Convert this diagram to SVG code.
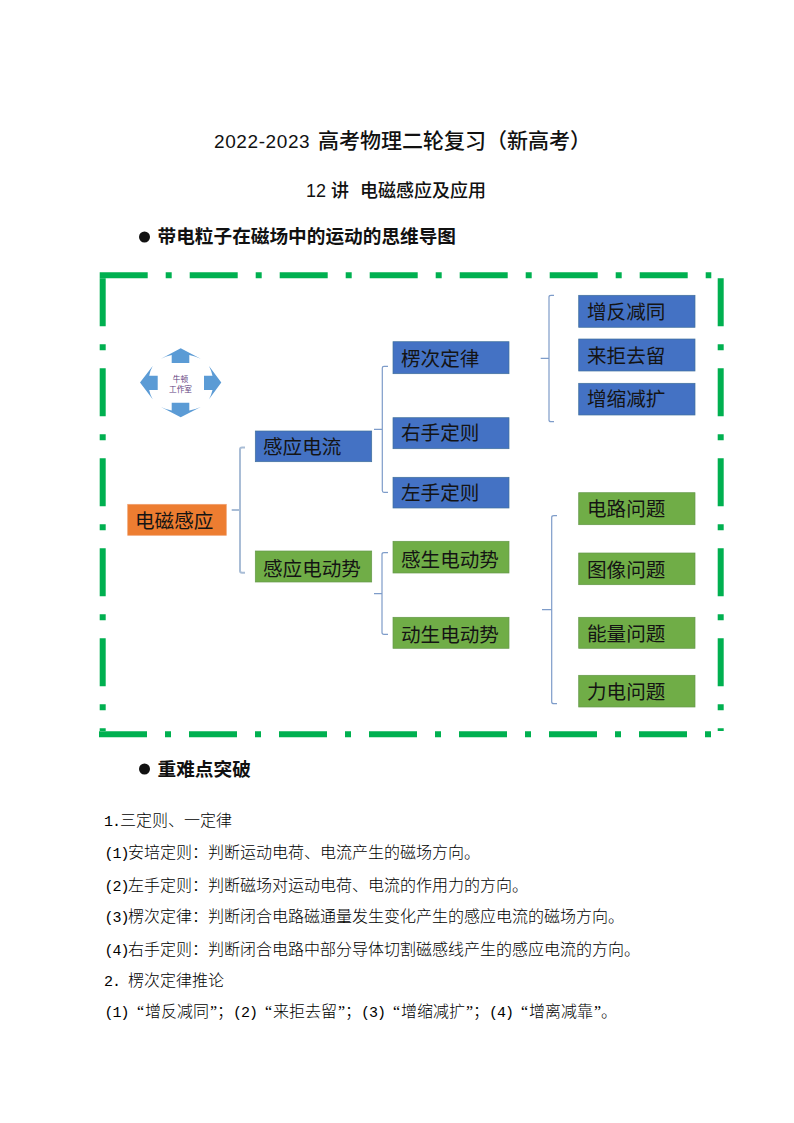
<svg xmlns="http://www.w3.org/2000/svg" width="794" height="1123" viewBox="0 0 794 1123">
<style>
text{font-family:"Noto Sans CJK SC","Noto Sans",sans-serif;fill:#111}
.m{font-family:"Liberation Mono",monospace;font-size:15px;letter-spacing:-1px}
.q{font-family:"Liberation Serif",serif}
.d{font-family:"Liberation Sans",sans-serif}
.title{font-size:21px;font-weight:500}
.sub{font-size:18px;font-weight:500}
.head{font-size:18.67px;font-weight:600}
.body{font-size:16px;font-weight:300;fill:#000}
.l{font-size:19.6px;fill:#141414}
.blue{fill:#4472C4;stroke:#41719C;stroke-width:.7}
.green{fill:#70AD47;stroke:#64994A;stroke-width:.7}
.orange{fill:#ED7D31;stroke:#F0A070;stroke-width:.7}
.frame{fill:none;stroke:#00B050;stroke-width:6}
.br{fill:none;stroke:#7E9CC9;stroke-width:1.2}
.br2{fill:none;stroke:#A9BDD6;stroke-width:2}
.ar{fill:#5B9BD5}
.ic{font-size:7.7px;fill:#5F3F80;text-anchor:middle}
</style>
<g id="page-text">
<text class="title" y="148"><tspan class="d" x="214" font-size="19" letter-spacing=".6">2022-2023</tspan><tspan x="318">高考物理二轮复习（新高考）</tspan></text>
<text class="sub" y="196.500"><tspan class="d" x="306">12</tspan><tspan x="331">讲</tspan><tspan x="360">电磁感应及应用</tspan></text>
<circle cx="144.500" cy="237" r="5.500" fill="#111"/>
<text class="head" x="157.500" y="243">带电粒子在磁场中的运动的思维导图</text>
<circle cx="144.500" cy="769" r="5.500" fill="#111"/>
<text class="head" x="157.500" y="775.500">重难点突破</text>
</g>
<g id="frame">
<path class="frame" d="M99.700 275.300H711.300" stroke-dasharray="48 18 6 18"/>
<path class="frame" d="M99 734.300H711.300" stroke-dasharray="48 18 6 18"/>
<path class="frame" d="M102.700 278.300V731" stroke-dasharray="48 18 6 18"/>
<path class="frame" d="M720.700 278.300V731" stroke-dasharray="48 18 6 18"/>
</g>
<g id="connectors">
<path class="br2" d="M245 447.500H242Q240 447.500 240 449.500V570.700Q240 572.700 242 572.700H245M231.700 510H240"/>
<path class="br" d="M388 366.300H384Q382.300 366.300 382.300 368V490.500Q382.300 492.300 384 492.300H388M374 429.300H382.300"/>
<path class="br" d="M554 295.300H551Q549 295.300 549 297V420Q549 421.700 551 421.700H554M540.700 358.300H549"/>
<path class="br" d="M388 552.700H384Q382 552.700 382 554.500V632.500Q382 634.300 384 634.300H388M374 593.700H382"/>
<path class="br" d="M557 515.700H554Q551.700 515.700 551.700 517.500V702Q551.700 703.700 554 703.700H557M542 609.700H551.700"/>
</g>
<g id="logo">
<path class="ar" d="M180.700 348.300L200.700 358.700Q195 356 189.300 355V363H171.700V355Q166 356 161 358.700Z"/>
<path class="ar" d="M180.700 417.300L200.700 407Q195 409.500 189.300 410.500V402.700H171.700V410.500Q166 409.500 161 407Z"/>
<path class="ar" d="M140 382.500L152.700 366Q150 371 149.200 375.700H157.700V390H149.200Q150 394.500 152.700 399.300Z"/>
<path class="ar" d="M221.300 382.500L209 366Q211.500 371 212.500 375.700H204V390H212.500Q211.500 394.500 209 399.300Z"/>
<text class="ic" x="180.500" y="382">牛顿</text>
<text class="ic" x="180.500" y="391.500">工作室</text>
</g>
<g id="n-root"><rect class="orange" x="127.700" y="504.300" width="98.600" height="31"/><text class="l" x="135" y="528">电磁感应</text></g>
<g id="n-current"><rect class="blue" x="255.300" y="431" width="116.400" height="30.700"/><text class="l" x="263" y="454">感应电流</text></g>
<g id="n-emf"><rect class="green" x="255.300" y="551" width="116.400" height="31"/><text class="l" x="263" y="576">感应电动势</text></g>
<g id="n-lenz"><rect class="blue" x="393" y="341.700" width="116" height="32"/><text class="l" x="401" y="366">楞次定律</text></g>
<g id="n-right"><rect class="blue" x="393" y="417.700" width="116" height="31"/><text class="l" x="401" y="440">右手定则</text></g>
<g id="n-left"><rect class="blue" x="393" y="477.300" width="116" height="30.700"/><text class="l" x="401" y="500">左手定则</text></g>
<g id="n-induced"><rect class="green" x="393" y="541.300" width="116" height="31.700"/><text class="l" x="401" y="567">感生电动势</text></g>
<g id="n-motional"><rect class="green" x="393" y="617.300" width="116" height="31"/><text class="l" x="401" y="642">动生电动势</text></g>
<g id="n-a1"><rect class="blue" x="578.700" y="295.300" width="116.300" height="32"/><text class="l" x="587" y="319">增反减同</text></g>
<g id="n-a2"><rect class="blue" x="578.700" y="339" width="116.300" height="32"/><text class="l" x="587" y="363">来拒去留</text></g>
<g id="n-a3"><rect class="blue" x="578.700" y="383.300" width="116.300" height="31.700"/><text class="l" x="587" y="406">增缩减扩</text></g>
<g id="n-b1"><rect class="green" x="578.700" y="492.700" width="116.300" height="32"/><text class="l" x="587" y="516">电路问题</text></g>
<g id="n-b2"><rect class="green" x="578.700" y="553" width="116.300" height="31.700"/><text class="l" x="587" y="577">图像问题</text></g>
<g id="n-b3"><rect class="green" x="578.700" y="617.300" width="116.300" height="31"/><text class="l" x="587" y="641">能量问题</text></g>
<g id="n-b4"><rect class="green" x="578.700" y="675.300" width="116.300" height="31.700"/><text class="l" x="587" y="699">力电问题</text></g>
<g id="body-text">
<text class="body" y="826"><tspan class="m" x="104">1.</tspan><tspan x="120">三定则、一定律</tspan></text>
<text class="body" y="858"><tspan class="m" x="104.500">(1)</tspan><tspan x="128">安培定则：判断运动电荷、电流产生的磁场方向。</tspan></text>
<text class="body" y="890.500"><tspan class="m" x="104.500">(2)</tspan><tspan x="128">左手定则：判断磁场对运动电荷、电流的作用力的方向。</tspan></text>
<text class="body" y="922"><tspan class="m" x="104.500">(3)</tspan><tspan x="128">楞次定律：判断闭合电路磁通量发生变化产生的感应电流的磁场方向。</tspan></text>
<text class="body" y="954.500"><tspan class="m" x="104.500">(4)</tspan><tspan x="128">右手定则：判断闭合电路中部分导体切割磁感线产生的感应电流的方向。</tspan></text>
<text class="body" y="985.500"><tspan class="m" x="104">2.</tspan><tspan x="128">楞次定律推论</tspan></text>
<text class="body" y="1016.500"><tspan class="m" x="104.500">(1)</tspan><tspan class="q" x="137">“</tspan><tspan x="145">增反减同</tspan><tspan class="q" x="210">”</tspan><tspan x="217">；</tspan><tspan class="m" x="233">(2)</tspan><tspan class="q" x="265">“</tspan><tspan x="273">来拒去留</tspan><tspan class="q" x="338">”</tspan><tspan x="345">；</tspan><tspan class="m" x="361">(3)</tspan><tspan class="q" x="393">“</tspan><tspan x="401">增缩减扩</tspan><tspan class="q" x="466">”</tspan><tspan x="473">；</tspan><tspan class="m" x="489">(4)</tspan><tspan class="q" x="521">“</tspan><tspan x="529">增离减靠</tspan><tspan class="q" x="594">”</tspan><tspan x="601">。</tspan></text>
</g>
</svg>
